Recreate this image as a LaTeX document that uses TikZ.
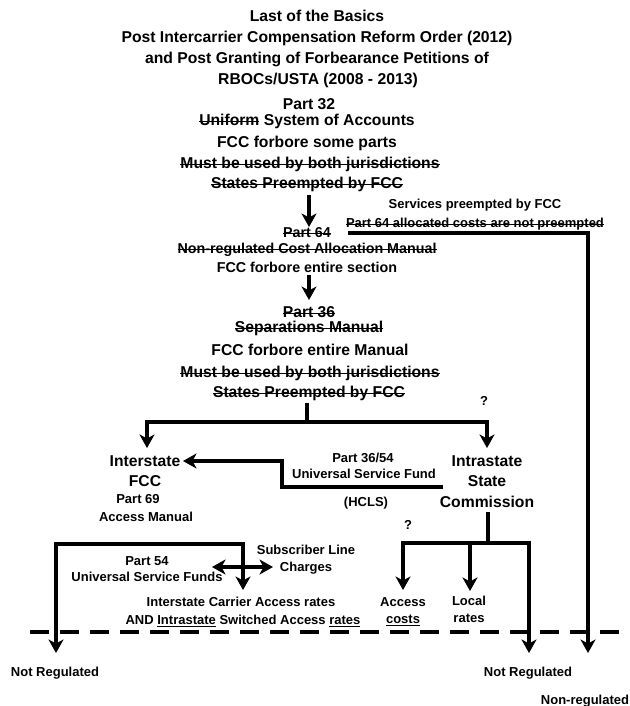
\documentclass[tikz,border=0pt]{standalone}
\usepackage{fontspec}
\setmainfont{Liberation Sans}
\usetikzlibrary{arrows.meta}

% struck-through and underlined text, drawn with rules
\newsavebox\mkbox
\newcommand\strk[1]{\sbox\mkbox{#1}\rlap{\usebox\mkbox}\rule[0.22em]{\wd\mkbox}{1.2pt}}
\newcommand\ulin[1]{\sbox\mkbox{#1}\rlap{\usebox\mkbox}\rule[-2.4pt]{\wd\mkbox}{1pt}}

\begin{document}
\begin{tikzpicture}[x=1pt,y=-1pt,
  big/.style={font=\fontsize{15.7}{18}\selectfont\bfseries, text height=11.2pt, text depth=0pt, inner sep=0pt},
  mid/.style={font=\fontsize{14.3}{17}\selectfont\bfseries, text height=10.2pt, text depth=0pt, inner sep=0pt},
  small/.style={font=\fontsize{13}{15}\selectfont\bfseries, text height=9.3pt, text depth=0pt, inner sep=0pt},
  link/.style={line width=3.7pt},
  head/.tip={Stealth[length=13.5pt,width=15pt,inset=4pt]},
  arr/.style={link,-head},
  dual/.style={link,head-head},
  cut/.style={line width=3.7pt, dash pattern=on 19pt off 11pt}
]
\useasboundingbox (0,0) rectangle (629,706);

% title
\node[big] (t1) at (317,16) {Last of the Basics};
\node[big] (t2) at (317,37) {Post Intercarrier Compensation Reform Order (2012)};
\node[big] (t3) at (317,58) {and Post Granting of Forbearance Petitions of};
\node[big] (t4) at (318,79) {RBOCs/USTA (2008 - 2013)};

% Part 32
\node[big] (p32a) at (309,104) {Part 32};
\node[big] (p32b) at (307,120) {\strk{Uniform} System of Accounts};
\node[big] (p32c) at (307,142) {FCC forbore some parts};
\node[big] (p32d) at (310,163) {\strk{Must be used by both jurisdictions}};
\node[big] (p32e) at (307,183) {\strk{States Preempted by FCC}};

% services note
\node[small] (sv1) at (475,204) {Services preempted by FCC};
\node[small] (sv2) at (475,223) {\strk{Part 64 allocated costs are not preempted}};

% Part 64
\node[mid] (p64a) at (307,232) {\strk{Part 64}};
\node[mid] (p64b) at (307,248) {\strk{Non-regulated Cost Allocation Manual}};
\node[mid] (p64c) at (307,267) {FCC forbore entire section};

% Part 36
\node[big] (p36a) at (309,312) {\strk{Part 36}};
\node[big] (p36b) at (309,327) {\strk{Separations Manual}};
\node[big] (p36c) at (310,350) {FCC forbore entire Manual};
\node[big] (p36d) at (310,372) {\strk{Must be used by both jurisdictions}};
\node[big] (p36e) at (309,392) {\strk{States Preempted by FCC}};

\node[small] (q1) at (484,401) {?};

% jurisdictions
\node[big] (inter1) at (145,461) {Interstate};
\node[big] (inter2) at (145,481) {FCC};
\node[small] (inter3) at (138,499) {Part 69};
\node[small] (inter4) at (146,517) {Access Manual};

\node[big] (intra1) at (487,461) {Intrastate};
\node[big] (intra2) at (487,481) {State};
\node[big] (intra3) at (487,502) {Commission};

\node[small] (usf1) at (363,458) {Part 36/54};
\node[small] (usf2) at (364,474) {Universal Service Fund};
\node[small] (hcls) at (366,502) {(HCLS)};

\node[small] (q2) at (408,525) {?};

% lower texts
\node[small] (p54a) at (147,561) {Part 54};
\node[small] (p54b) at (147,577) {Universal Service Funds};
\node[small] (slc1) at (306,550) {Subscriber Line};
\node[small] (slc2) at (306,567) {Charges};
\node[small] (car1) at (241,602) {Interstate Carrier Access rates};
\node[small] (car2) at (243,620) {AND \ulin{Intrastate} Switched Access \ulin{rates}};
\node[small] (acc1) at (403,602) {Access};
\node[small] (acc2) at (403,619) {\ulin{costs}};
\node[small] (loc1) at (469,601) {Local};
\node[small] (loc2) at (469,618) {rates};

\node[small] (nr1) at (55,672) {Not Regulated};
\node[small] (nr2) at (528,672) {Not Regulated};
\node[small] (nr3) at (585,700) {Non-regulated};

% connector points
\coordinate (a1s) at (309,195);
\coordinate (a1e) at (309,227);
\coordinate (a2s) at (309,275);
\coordinate (a2e) at (309,300);
\coordinate (sv0) at (348,233);
\coordinate (sv9) at (588,233);
\coordinate (sve) at (588,653);
\coordinate (sp0) at (307,403);
\coordinate (sp1) at (307,422);
\coordinate (spl) at (147,422);
\coordinate (spr) at (487,422);
\coordinate (spla) at (147,448);
\coordinate (spra) at (487,448);
\coordinate (h0) at (443,487);
\coordinate (h1) at (282,487);
\coordinate (h2) at (282,461);
\coordinate (h3) at (183,461);
\coordinate (c0) at (488,512);
\coordinate (c1) at (488,543);
\coordinate (cl) at (403,543);
\coordinate (cm) at (470,543);
\coordinate (cr) at (529,543);
\coordinate (cla) at (403,590);
\coordinate (cma) at (470,591);
\coordinate (cra) at (529,653);
\coordinate (l0) at (243,544);
\coordinate (l1) at (56,544);
\coordinate (la) at (56,653);
\coordinate (lb) at (243,590);
\coordinate (d0) at (212,567);
\coordinate (d1) at (273,567);
\coordinate (cut0) at (30,632);
\coordinate (cut1) at (629,632);

% connectors
\draw[arr] (a1s) -- (a1e);
\draw[arr] (a2s) -- (a2e);
\draw[arr] (sv0) -- (sv9) -- (sve);
\draw[link] (sp0) -- (sp1);
\draw[arr] (sp1) -- (spl) -- (spla);
\draw[arr] (sp1) -- (spr) -- (spra);
\draw[arr] (h0) -- (h1) -- (h2) -- (h3);
\draw[link] (c0) -- (c1);
\draw[arr] (c1) -- (cl) -- (cla);
\draw[arr] (cm) -- (cma);
\draw[arr] (c1) -- (cr) -- (cra);
\draw[dual] (lb) -- (l0) -- (l1) -- (la);
\draw[dual] (d0) -- (d1);
\draw[cut] (cut0) -- (cut1);
\end{tikzpicture}
\end{document}
